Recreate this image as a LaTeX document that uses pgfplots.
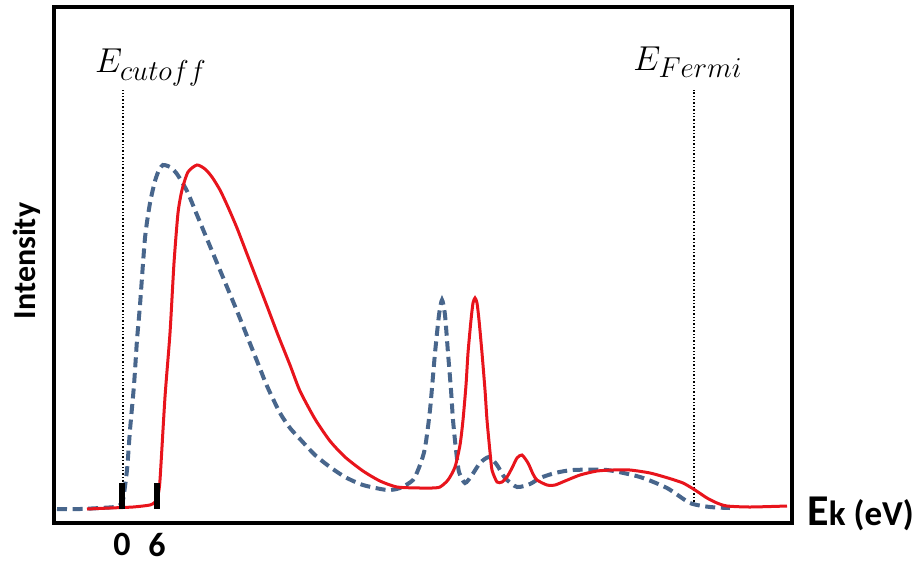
\documentclass[border=0pt]{standalone}
\usepackage{fontspec}
\setmainfont{Carlito}
\usepackage{pgfplots}
\pgfplotsset{compat=1.18}
\definecolor{specred}{RGB}{232,20,28}
\definecolor{specblue}{RGB}{72,102,140}
\newcommand{\sub}[1]{\mbox{\fontsize{13.5}{15}\selectfont$#1$}}
\begin{document}
\begin{tikzpicture}
\useasboundingbox (-27pt,-20.5pt) rectangle (432.5pt,261.5pt);
\begin{axis}[
  at={(0,0)}, anchor=south west,
  scale only axis, width=369pt, height=258pt,
  xmin=54, xmax=792, ymin=0, ymax=516,
  clip=false,
  axis line style={line width=1.6pt},
  xtick={122,157}, xticklabels={\textbf{0},\textbf{6}},
  ytick=\empty,
  major tick length=0pt,
  xticklabel style={font=\fontsize{17}{19}\selectfont, yshift=-1.5pt},
  /pgf/number format/assume math mode=true,
]
% dotted markers
\addplot[black, densely dotted, line width=0.7pt] coordinates {(123,38) (123,433)};
\addplot[black, densely dotted, line width=0.7pt] coordinates {(694,18) (694,433)};
% blue dashed
\addplot[specblue, line width=2pt, dash pattern=on 5pt off 2.8pt, smooth, tension=0.4] coordinates {
(57,14) (80,14) (100,15) (115,16) (120,18) (123,23) (127,53) (130,93) (134,138) (137,183) (140,218) (145,285) (150,320) (155,342) (159,353) (163,358) (170,356) (177,349) (187,332) (197,308) (207,284) (217,260) (227,236) (237,212) (247,187) (257,162) (267,137) (280,110) (290,95) (300,84) (315,68) (330,56) (345,46) (363,38) (387,33) (400,35) (413,43) (420,58) (425,75) (430,113) (435,170) (439,208) (442,223) (445,208) (448,170) (451,133) (453,103) (456,73) (459,51) (465,40) (472,48) (480,60) (489,66) (497,58) (505,45) (517,36) (530,39) (540,45) (555,50) (573,53) (607,53) (640,46) (667,35) (690,20) (710,16) (730,15)};
% red solid
\addplot[specred, line width=1.5pt, smooth, tension=0.4] coordinates {
(87,14) (110,15) (133,16) (150,18) (155,21) (158,28) (160,43) (165,126) (170,190) (174,260) (178,310) (182,333) (188,351) (197,358) (205,354) (212,346) (220,333) (228,316) (237,295) (247,269) (257,243) (267,217) (278,188) (290,158) (300,132) (315,104) (330,82) (345,66) (363,52) (380,42) (397,36) (420,35) (432,35) (440,36) (448,43) (455,56) (460,78) (463,103) (466,138) (468,170) (471,203) (473,220) (475,225) (477,220) (479,203) (482,170) (485,133) (487,103) (490,71) (492,53) (497,41) (502,41) (507,46) (512,55) (517,65) (522,68) (528,60) (533,49) (537,43) (547,38) (555,38) (565,42) (580,48) (597,52) (613,53) (630,53) (650,50) (668,45) (683,40) (695,33) (707,25) (717,20) (727,17) (750,16) (787,17)};
% thick black bars
\addplot[black, line width=2.8pt] coordinates {(122,14) (122,40)};
\addplot[black, line width=2.8pt] coordinates {(157,14) (157,40)};
% labels
\node[anchor=base, font=\fontsize{17}{19}\selectfont] at (axis cs:151,451) {$E_{\sub{cutoff}}$};
\node[anchor=base, font=\fontsize{17}{19}\selectfont] at (axis cs:688,453) {$E_{\sub{Fermi}}$};
\node[rotate=90, font=\bfseries\fontsize{16}{18}\selectfont] at (axis cs:27,262) {Intensity};
\node[anchor=base west, inner sep=0pt, font=\bfseries] at (axis cs:807,-2) {{\fontsize{22}{24}\selectfont E}{\fontsize{17.5}{20}\selectfont k (eV)}};
\end{axis}
\end{tikzpicture}
\end{document}
